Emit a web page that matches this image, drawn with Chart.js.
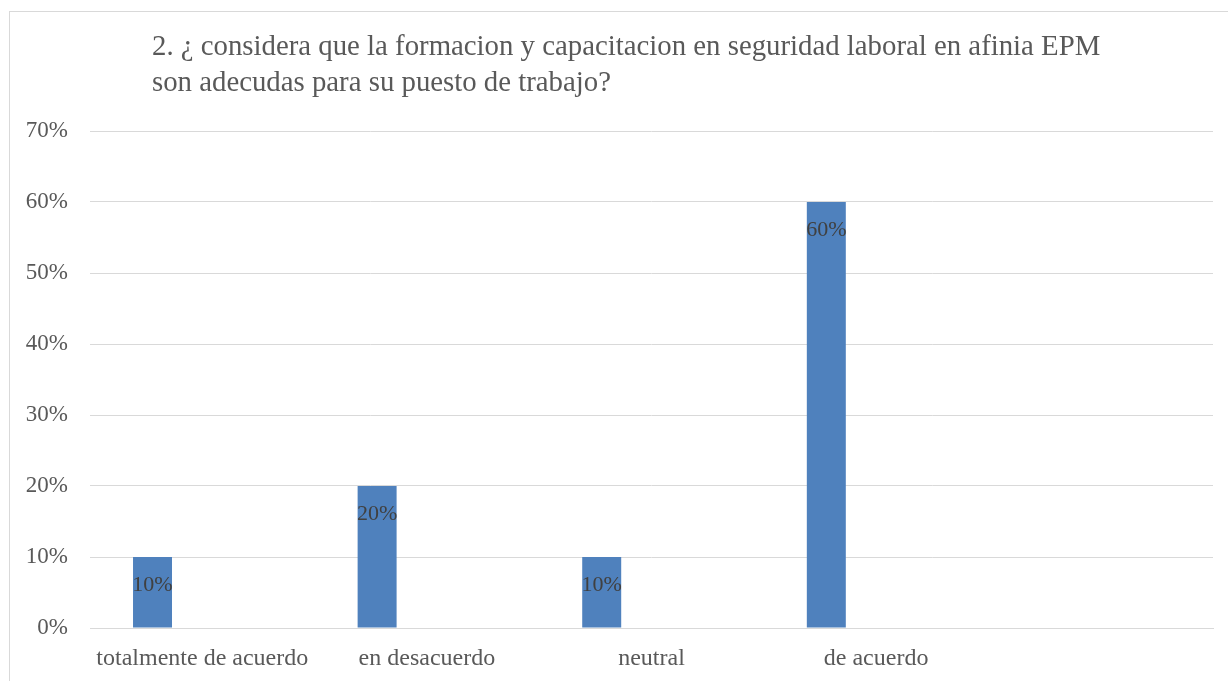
<!DOCTYPE html>
<html>
<head>
  <title>Formacion y capacitacion</title>
  <script src="https://cdn.jsdelivr.net/npm/chart.js"></script>
  <style>
    body { margin: 0; overflow: hidden; background: #fff; }
  </style>
</head>
<body>
  <div style="width: 1228px; height: 681px;">
    <canvas id="barChart"></canvas>
  </div>

  <script>
    // survey data
    const categories = ['totalmente de acuerdo', 'en desacuerdo', 'neutral', 'de acuerdo', ''];
    const serie1 = [0.10, 0.20, 0.10, 0.60, null];
    const serie2 = [null, null, null, null, null];
    const serie3 = [null, null, null, null, null];
    const yTicks = [0, 0.1, 0.2, 0.3, 0.4, 0.5, 0.6, 0.7];
    const titleLines = [
      '2. \u00bf considera que la formacion y capacitacion en seguridad laboral en afinia EPM',
      'son adecudas para su puesto de trabajo?'
    ];

    const serif = '"Liberation Serif", "Times New Roman", serif';
    const pct = v => Math.round(v * 100) + '%';

    // frame, title and value labels
    const decorations = {
      id: 'decorations',
      beforeDraw(chart) {
        const ctx = chart.ctx;
        ctx.save();
        ctx.strokeStyle = '#d9d9d9';
        ctx.lineWidth = 1;
        ctx.strokeRect(9.5, 11.5, 1400, 800);
        ctx.restore();
      },
      afterDraw(chart) {
        const ctx = chart.ctx;
        ctx.save();
        ctx.fillStyle = '#595959';
        ctx.font = '28.8px ' + serif;
        ctx.textAlign = 'left';
        ctx.textBaseline = 'alphabetic';
        ctx.fillText(titleLines[0], 152, 55);
        ctx.fillText(titleLines[1], 152, 91);

        ctx.fillStyle = '#404040';
        ctx.font = '22px ' + serif;
        ctx.textAlign = 'center';
        ctx.textBaseline = 'middle';
        const meta = chart.getDatasetMeta(0);
        meta.data.forEach((bar, i) => {
          const v = serie1[i];
          if (v === null || v === undefined) return;
          ctx.fillText(pct(v), bar.x, bar.y + 28);
        });
        ctx.restore();
      }
    };

    function createChart() {
      const ctx = document.getElementById('barChart').getContext('2d');
      const barOpts = { backgroundColor: '#4f81bd', categoryPercentage: 0.665, barPercentage: 0.783 };
      new Chart(ctx, {
        type: 'bar',
        data: {
          labels: categories,
          datasets: [
            Object.assign({ label: 'Serie 1', data: serie1 }, barOpts),
            Object.assign({ label: 'Serie 2', data: serie2 }, barOpts),
            Object.assign({ label: 'Serie 3', data: serie3 }, barOpts)
          ]
        },
        options: {
          responsive: true,
          maintainAspectRatio: false,
          animation: false,
          layout: { padding: { top: 131, right: 15, bottom: 0, left: 0 } },
          plugins: {
            legend: { display: false },
            title: { display: false },
            tooltip: { enabled: false }
          },
          scales: {
            x: {
              grid: { display: false, drawTicks: false },
              border: { color: '#d9d9d9', width: 1 },
              ticks: {
                color: '#595959',
                font: { family: serif, size: 24 },
                padding: 16,
                autoSkip: false,
                maxRotation: 0
              },
              afterFit: s => { s.height = 53; }
            },
            y: {
              min: 0,
              max: 0.7,
              afterBuildTicks: s => { s.ticks = yTicks.map(v => ({ value: v })); },
              grid: { color: '#d9d9d9', lineWidth: 1, drawTicks: false },
              border: { display: false },
              ticks: {
                color: '#595959',
                font: { family: serif, size: 23 },
                padding: 22,
                callback: v => pct(v)
              },
              afterFit: s => { s.width = 90; }
            }
          }
        },
        plugins: [decorations]
      });
    }

    window.onload = createChart;
  </script>
</body>
</html>
